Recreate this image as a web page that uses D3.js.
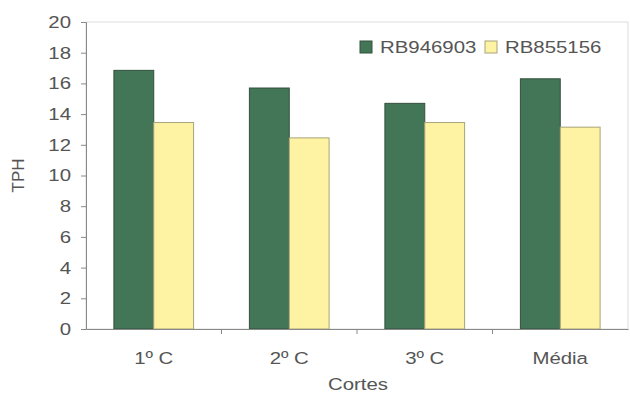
<!DOCTYPE html>
<html>
<head>
<meta charset="utf-8">
<script src="https://cdn.jsdelivr.net/npm/d3@7"></script>
<style>
  body { margin: 0; background: #fff; }
  text { font-family: "Liberation Sans", Arial, sans-serif; fill: #555; font-size: 17px; }
  /* the source picture is a little wider than tall, stretch text to match */
  text.wide { transform-box: fill-box; transform: scaleX(1.2); }
  text.wide-c { transform-origin: center; }
  text.wide-l { transform-origin: left; }
  text.wide-r { transform-origin: right; }
</style>
</head>
<body>
<div id="chart"></div>
<script>
const categories = ["1º C", "2º C", "3º C", "Média"];
const seriesNames = ["RB946903", "RB855156"];
const rb946903 = [16.85, 15.7, 14.7, 16.3];
const rb855156 = [13.45, 12.45, 13.45, 13.15];
const yTicks = [0, 2, 4, 6, 8, 10, 12, 14, 16, 18, 20];

const width = 630, height = 397;
const margin = {top: 22, right: 2, bottom: 68, left: 86};
const colors = ["#427657", "#fdf3a2"];
const strokes = ["#34503f", "#a8a37a"];

const svg = d3.select("#chart").append("svg")
    .attr("width", width)
    .attr("height", height);

const x = d3.scaleBand()
    .domain(categories)
    .range([margin.left, width - margin.right]);

const inner = d3.scaleBand()
    .domain(seriesNames)
    .range([0, x.bandwidth()])
    .paddingInner(0)
    .paddingOuter(0.7);

const y = d3.scaleLinear()
    .domain([0, 20])
    .range([height - margin.bottom, margin.top]);

// plot frame
svg.append("rect")
    .attr("x", margin.left)
    .attr("y", margin.top)
    .attr("width", width - margin.right - margin.left)
    .attr("height", height - margin.bottom - margin.top)
    .attr("fill", "none")
    .attr("stroke", "#ddd");

const data = categories.map((c, i) => ({cat: c, vals: [rb946903[i], rb855156[i]]}));

const groups = svg.selectAll("g.grp")
    .data(data)
    .join("g")
    .attr("class", "grp")
    .attr("transform", d => `translate(${x(d.cat)},0)`);

groups.selectAll("rect")
    .data(d => d.vals.map((v, k) => ({name: seriesNames[k], v, k})))
    .join("rect")
    .attr("x", d => inner(d.name))
    .attr("y", d => y(d.v))
    .attr("width", inner.bandwidth())
    .attr("height", d => y(0) - y(d.v))
    .attr("fill", d => colors[d.k])
    .attr("stroke", d => strokes[d.k])
    .attr("stroke-width", 1);

// y axis
const yAxis = svg.append("g")
    .attr("transform", `translate(${margin.left},0)`)
    .call(d3.axisLeft(y).tickValues(yTicks).tickSize(5).tickPadding(10));
yAxis.select(".domain").attr("stroke", "#888");
yAxis.selectAll(".tick line").attr("stroke", "#888");
yAxis.selectAll("text")
    .attr("class", "wide wide-r")
    .style("font-size", "17px")
    .attr("fill", "#555");

// x axis
const xAxis = svg.append("g")
    .attr("transform", `translate(0,${height - margin.bottom})`)
    .call(d3.axisBottom(x).tickSize(0).tickPadding(23));
xAxis.select(".domain").attr("stroke", "#888");
xAxis.selectAll("text")
    .attr("class", "wide wide-c")
    .style("font-size", "17px")
    .attr("fill", "#555");
// category separators
xAxis.selectAll(".sep")
    .data(categories.slice(1))
    .join("line")
    .attr("class", "sep")
    .attr("x1", d => x(d))
    .attr("x2", d => x(d))
    .attr("y1", 0)
    .attr("y2", 5)
    .attr("stroke", "#888");

svg.append("text")
    .attr("class", "wide wide-c")
    .attr("x", (margin.left + width - margin.right) / 2 + 1)
    .attr("y", 390)
    .attr("text-anchor", "middle")
    .text("Cortes");

svg.append("g")
    .attr("transform", `translate(24,${(margin.top + height - margin.bottom) / 2}) rotate(-90)`)
  .append("text")
    .attr("text-anchor", "middle")
    .style("font-size", "17px")
    .text("TPH");

// legend
const legendPos = [360, 485];
const legend = svg.selectAll("g.leg")
    .data(seriesNames)
    .join("g")
    .attr("class", "leg")
    .attr("transform", (d, i) => `translate(${legendPos[i]},41)`);
legend.append("rect")
    .attr("width", 12)
    .attr("height", 12)
    .attr("fill", (d, i) => colors[i])
    .attr("stroke", (d, i) => strokes[i]);
legend.append("text")
    .attr("class", "wide wide-l")
    .attr("x", 20)
    .attr("y", 12)
    .style("font-size", "17px")
    .text(d => d);
</script>
</body>
</html>
